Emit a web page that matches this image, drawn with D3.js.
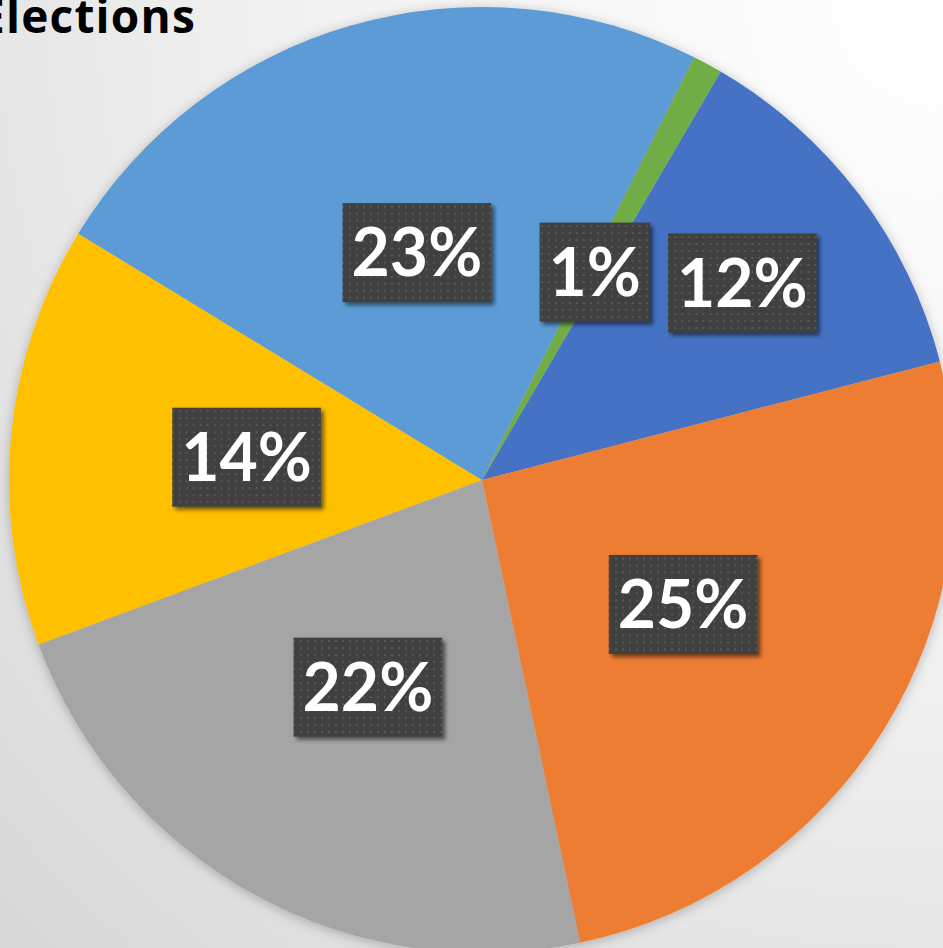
<!DOCTYPE html>
<html>
<head>
<meta charset="utf-8">
<script src="https://cdn.jsdelivr.net/npm/d3@7"></script>
<style>
  html, body { margin: 0; padding: 0; overflow: hidden; }
  svg { display: block; }
</style>
</head>
<body>
<div id="chart"></div>
<script>
// Data (shares in %, order as drawn clockwise from the first slice)
const categories = ["Series 1", "Series 2", "Series 3", "Series 4", "Series 5", "Series 6"];
const values = [12.4, 25.4, 22.4, 14.2, 23.4, 1.0];
const colors = ["#4472C4", "#ED7D31", "#A5A5A5", "#FFC000", "#5B9BD5", "#70AD47"];
const title = "Elections";

const width = 943, height = 948;
const cx = 482, cy = 480, radius = 473;

const svg = d3.select("#chart")
  .append("svg")
  .attr("width", width)
  .attr("height", height);

const defs = svg.append("defs");

// Background gradient
const bg = defs.append("radialGradient")
  .attr("id", "bg")
  .attr("cx", "100%").attr("cy", "0%").attr("r", "140%");
bg.append("stop").attr("offset", "0%").attr("stop-color", "#ffffff");
bg.append("stop").attr("offset", "50%").attr("stop-color", "#f1f1f1");
bg.append("stop").attr("offset", "100%").attr("stop-color", "#d8d8d8");

// Dotted label fill
const pat = defs.append("pattern")
  .attr("id", "dots")
  .attr("patternUnits", "userSpaceOnUse")
  .attr("width", 7).attr("height", 7);
pat.append("rect").attr("width", 7).attr("height", 7).attr("fill", "#3f3f3f");
pat.append("rect").attr("x", 2).attr("y", 2).attr("width", 2).attr("height", 2).attr("fill", "#595959");

// Shadows
defs.append("filter").attr("id", "pieShadow")
  .attr("x", "-10%").attr("y", "-10%").attr("width", "120%").attr("height", "120%")
  .append("feDropShadow")
  .attr("dx", 0).attr("dy", 2).attr("stdDeviation", 6)
  .attr("flood-color", "#000").attr("flood-opacity", 0.25);

defs.append("filter").attr("id", "boxShadow")
  .attr("x", "-20%").attr("y", "-20%").attr("width", "140%").attr("height", "140%")
  .append("feDropShadow")
  .attr("dx", 3).attr("dy", 3).attr("stdDeviation", 2)
  .attr("flood-color", "#000").attr("flood-opacity", 0.55);

svg.append("rect")
  .attr("width", width).attr("height", height)
  .attr("fill", "url(#bg)");

// Title (cropped at the left edge like the reference)
svg.append("text")
  .attr("x", 196).attr("y", 33)
  .attr("text-anchor", "end")
  .style("font-family", "'Open Sans', Lato, sans-serif")
  .style("font-weight", "bold")
  .style("font-size", "46px")
  .style("letter-spacing", "1.2px")
  .attr("fill", "#000")
  .text(title);

// Pie
const pie = d3.pie()
  .sort(null)
  .startAngle(30.3 * Math.PI / 180)
  .endAngle(30.3 * Math.PI / 180 + 2 * Math.PI);

const arcs = pie(values);

const arc = d3.arc().innerRadius(0).outerRadius(radius);

const g = svg.append("g")
  .attr("transform", `translate(${cx},${cy})`);

g.append("g")
  .attr("filter", "url(#pieShadow)")
  .selectAll("path")
  .data(arcs)
  .enter()
  .append("path")
  .attr("d", arc)
  .attr("fill", (d, i) => colors[i]);

// Labels
const labelsG = g.append("g");
const padX = 9, boxH = 99;

const labels = arcs.map((d, i) => {
  const lg = labelsG.append("g");
  const rect = lg.append("rect")
    .attr("fill", "url(#dots)")
    .attr("filter", "url(#boxShadow)");
  const text = lg.append("text")
    .attr("text-anchor", "middle")
    .attr("dy", "0.36em")
    .style("font-family", "Lato, 'Open Sans', sans-serif")
    .style("font-weight", "bold")
    .style("font-size", "66px")
    .attr("fill", "#fff")
    .text(Math.round(values[i]) + "%");
  const w = text.node().getComputedTextLength() + padX * 2;
  return { d, i, lg, rect, w, h: boxH };
});

// place smallest first, push others outward if they collide
const placed = [];
const gap = 18;
labels.slice().sort((a, b) => values[a.i] - values[b.i]).forEach(l => {
  const mid = (l.d.startAngle + l.d.endAngle) / 2;
  let r = radius * 0.5;
  let x, y;
  const overlaps = () => placed.some(p =>
    x - l.w / 2 < p.x + p.w / 2 + gap && x + l.w / 2 + gap > p.x - p.w / 2 &&
    y - l.h / 2 < p.y + p.h / 2 + gap && y + l.h / 2 + gap > p.y - p.h / 2);
  do {
    x = Math.sin(mid) * r;
    y = -Math.cos(mid) * r;
    r += 2;
  } while (overlaps() && r < radius);
  placed.push({ x, y, w: l.w, h: l.h });
  l.lg.attr("transform", `translate(${x},${y})`);
  l.rect
    .attr("x", -l.w / 2).attr("y", -l.h / 2)
    .attr("width", l.w).attr("height", l.h);
});
</script>
</body>
</html>
